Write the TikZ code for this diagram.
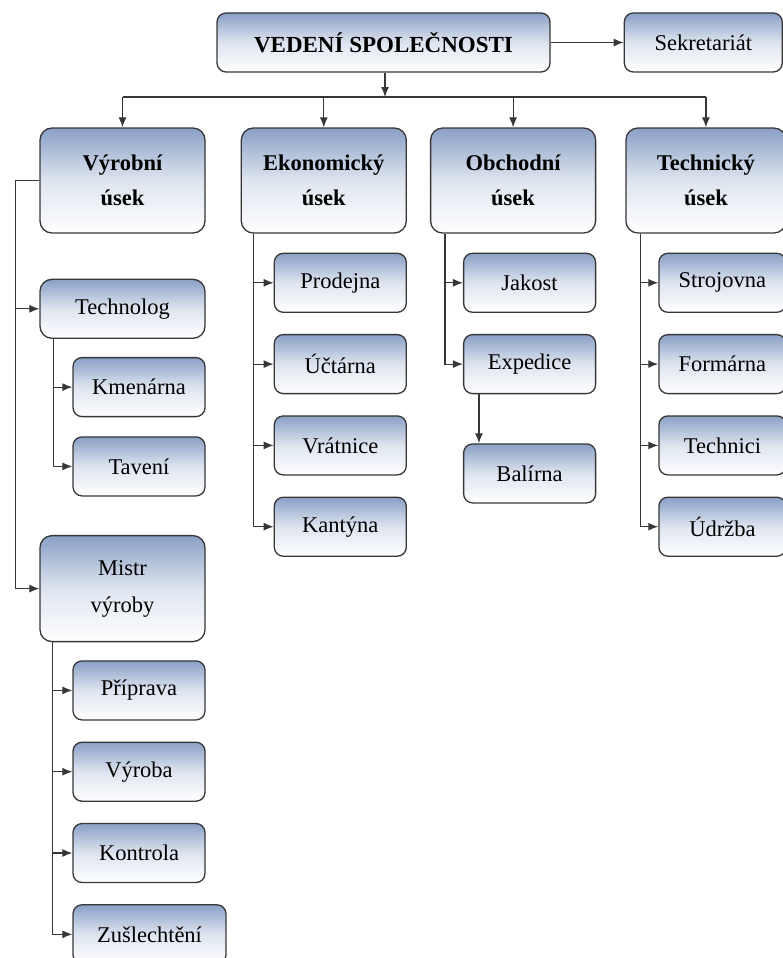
\documentclass[tikz,border=0pt]{standalone}
\usepackage{fontspec}
\setmainfont{Liberation Serif}
\usetikzlibrary{shapes.geometric, arrows.meta, positioning}
\definecolor{boxblue}{RGB}{138,160,198}
\definecolor{linegray}{RGB}{55,55,55}
\tikzset{boxfill/.style={top color=boxblue, bottom color=white, middle color=boxblue!28}}
\tikzstyle{leader} = [rectangle, rounded corners=9pt, minimum width=333pt, minimum height=59pt, text centered, draw=linegray, line width=1.3pt, boxfill, font=\fontsize{23}{35}\selectfont\bfseries]
\tikzstyle{division} = [rectangle, rounded corners=12pt, minimum width=165pt, minimum height=105pt, text width=150pt, align=center, draw=linegray, line width=1.3pt, boxfill, font=\fontsize{22.5}{35}\selectfont\bfseries]
\tikzstyle{master} = [rectangle, rounded corners=12pt, minimum width=165pt, minimum height=59pt, text width=150pt, align=center, draw=linegray, line width=1.3pt, boxfill, font=\fontsize{22.5}{37}\selectfont]
\tikzstyle{section} = [rectangle, rounded corners=9pt, minimum width=132pt, minimum height=59pt, text centered, draw=linegray, line width=1.3pt, boxfill, font=\fontsize{22.5}{35}\selectfont]
\tikzstyle{link} = [line width=1.2pt, draw=linegray]
\tikzstyle{arrow} = [line width=1.2pt, draw=linegray, ->, >={Latex[length=10pt,width=8pt]}]

\begin{document}
\begin{tikzpicture}[x=1pt, y=1pt]

    \useasboundingbox (0,0) rectangle (783,-958);

    \node (vedeni) [leader] at (383.5,-42.5) {VEDENÍ SPOLEČNOSTI};
    \node (sekretariat) [section, minimum width=158pt, right=73pt of vedeni] {Sekretariát};

    \node (vyrobni) [division] at (122.5,-180.5) {Výrobní\\úsek};
    \node (ekonomicky) [division, right=35pt of vyrobni] {Ekonomický\\úsek};
    \node (obchodni) [division, right=23pt of ekonomicky] {Obchodní\\úsek};
    \node (technicky) [division, minimum width=160pt, right=29pt of obchodni] {Technický\\úsek};

    \coordinate (bus) at (385,-97);

    % vyrobni usek
    \node (technolog) [master, below=45pt of vyrobni] {Technolog};
    \node (kmenarna) [section, below=18pt of technolog.south east, anchor=north east] {Kmenárna};
    \node (taveni) [section, below=19pt of kmenarna] {Tavení};
    \node (mistr) [master, minimum height=106pt, below=196pt of technolog] {Mistr\\výroby};
    \node (priprava) [section, below=18pt of mistr.south east, anchor=north east] {Příprava};
    \node (vyroba) [section, below=21pt of priprava] {Výroba};
    \node (kontrola) [section, below=21pt of vyroba] {Kontrola};
    \node (zuslechteni) [section, minimum width=153pt, below=21pt of kontrola.south west, anchor=north west] {Zušlechtění};

    % ekonomicky usek
    \node (prodejna) [section, below=19pt of ekonomicky.south east, anchor=north east] {Prodejna};
    \node (uctarna) [section, below=21pt of prodejna] {Účtárna};
    \node (vratnice) [section, below=21pt of uctarna] {Vrátnice};
    \node (kantyna) [section, below=21pt of vratnice] {Kantýna};

    % obchodni usek
    \node (jakost) [section, below=19pt of obchodni.south east, anchor=north east] {Jakost};
    \node (expedice) [section, below=21pt of jakost] {Expedice};
    \node (balirna) [section, below=49pt of expedice] {Balírna};

    % technicky usek
    \node (strojovna) [section, minimum width=127pt, below=19pt of technicky.south east, anchor=north east] {Strojovna};
    \node (formarna) [section, minimum width=127pt, below=21pt of strojovna] {Formárna};
    \node (technici) [section, minimum width=127pt, below=21pt of formarna] {Technici};
    \node (udrzba) [section, minimum width=127pt, below=21pt of technici] {Údržba};

    \draw [arrow] (vedeni) -- (sekretariat);
    \draw [arrow] (vedeni.south -| bus) -- (bus);
    \draw [link] (bus -| vyrobni) -- (bus -| technicky);
    \draw [arrow] (bus -| vyrobni) -- (vyrobni);
    \draw [arrow] (bus -| ekonomicky) -- (ekonomicky);
    \draw [arrow] (bus -| obchodni) -- (obchodni);
    \draw [arrow] (bus -| technicky) -- (technicky);

    \draw [arrow] (vyrobni.west) -- ++(-24pt,0) |- (technolog.west);
    \draw [arrow] (vyrobni.west) -- ++(-24pt,0) |- (mistr.west);
    \draw [arrow] ([xshift=14pt]technolog.south west) |- (kmenarna.west);
    \draw [arrow] ([xshift=14pt]technolog.south west) |- (taveni.west);
    \draw [arrow] ([xshift=13pt]mistr.south west) |- (priprava.west);
    \draw [arrow] ([xshift=13pt]mistr.south west) |- (vyroba.west);
    \draw [arrow] ([xshift=13pt]mistr.south west) |- (kontrola.west);
    \draw [arrow] ([xshift=13pt]mistr.south west) |- (zuslechteni.west);

    \draw [arrow] ([xshift=13pt]ekonomicky.south west) |- (prodejna.west);
    \draw [arrow] ([xshift=13pt]ekonomicky.south west) |- (uctarna.west);
    \draw [arrow] ([xshift=13pt]ekonomicky.south west) |- (vratnice.west);
    \draw [arrow] ([xshift=13pt]ekonomicky.south west) |- (kantyna.west);

    \draw [arrow] ([xshift=15pt]obchodni.south west) |- (jakost.west);
    \draw [arrow] ([xshift=15pt]obchodni.south west) |- (expedice.west);
    \draw [arrow] ([xshift=16pt]expedice.south west) -- ([xshift=16pt]balirna.north west);

    \draw [arrow] ([xshift=15pt]technicky.south west) |- (strojovna.west);
    \draw [arrow] ([xshift=15pt]technicky.south west) |- (formarna.west);
    \draw [arrow] ([xshift=15pt]technicky.south west) |- (technici.west);
    \draw [arrow] ([xshift=15pt]technicky.south west) |- (udrzba.west);

\end{tikzpicture}
\end{document}
